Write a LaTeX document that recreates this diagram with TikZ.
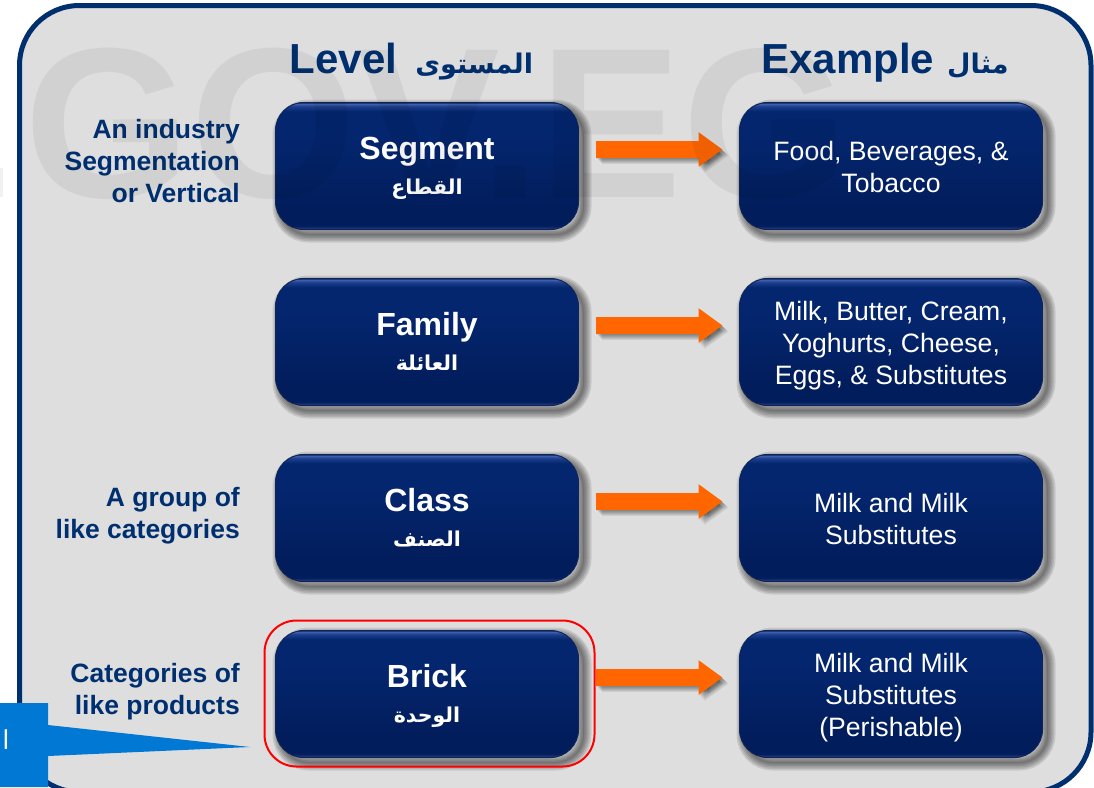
\documentclass[tikz,border=0pt]{standalone}
\usepackage{fontspec}
\setmainfont{Liberation Sans}
\newfontfamily\arabicfont[Script=Arabic]{DejaVu Sans}
\TeXXeTstate=1
\usetikzlibrary{arrows.meta}
\definecolor{navy}{HTML}{002F6F}
\definecolor{panelgray}{HTML}{DEDEDE}
\definecolor{calloutblue}{HTML}{0078D4}
\definecolor{arroworange}{HTML}{FF6600}
\definecolor{HexA}{HTML}{0F2458}
\definecolor{HexB}{HTML}{1B3475}
\definecolor{HexC}{HTML}{021D5C}
\definecolor{HexD}{HTML}{04266F}
\definecolor{HexE}{HTML}{1E3F8C}
\definecolor{HexF}{HTML}{3F62B2}
\pgfdeclareverticalshading{gloss}{100bp}{
 color(0bp)=(HexA);color(25bp)=(HexA);color(25.5bp)=(HexB);color(26.5bp)=(HexC);
 color(34bp)=(HexC);color(62bp)=(HexD);color(71.5bp)=(HexD);color(73.5bp)=(HexE);color(74.5bp)=(HexF);color(75bp)=(HexA);color(100bp)=(HexA)}
\tikzset{
 x=1pt,y=-1pt,
 shadowlayer/.style={preaction={draw=black,draw opacity=.1,line width=#1,transform canvas={xshift=5pt,yshift=-5pt}}},
 softshadow/.style={shadowlayer=16pt,shadowlayer=13pt,shadowlayer=10pt,shadowlayer=7pt,shadowlayer=4pt,shadowlayer=1pt},
 gbox/.style={rounded corners=28pt,minimum width=303pt,minimum height=127pt,inner sep=0pt,outer sep=0pt,
  softshadow,shading=gloss,draw=HexA,line width=1pt,text=white,align=center},
 levelbox/.style={gbox,font=\fontsize{32}{35}\selectfont\bfseries},
 examplebox/.style={gbox,font=\fontsize{26.6}{32}\selectfont},
 sidelabel/.style={anchor=east,align=right,inner sep=0pt,text=navy,font=\fontsize{26.5}{32}\selectfont\bfseries},
 heading/.style={anchor=base,inner sep=0pt,text=navy,font=\fontsize{42}{46}\selectfont\bfseries},
 flow/.style={-{Triangle[length=24pt,width=33pt]},line width=17pt,draw=arroworange,shorten <=17.5pt,shorten >=17pt},
 flowshadow/.style={flow,draw=black,opacity=.08,transform canvas={xshift=#1pt,yshift=-#1pt}},
}
\newcommand{\ar}[1]{{\arabicfont\beginR #1\endR}}
\newcommand{\arlabel}[1]{\rule[-9pt]{0pt}{24pt}{\fontsize{20.5}{24}\selectfont\arabicfont\bfseries\beginR #1\endR}}
\newcommand{\toplabel}[1]{\rule{0pt}{31pt}#1}
\newcommand{\twoline}{\rule{0pt}{21pt}}
\newcommand{\threeline}{\rule{0pt}{27pt}}
\begin{document}
\begin{tikzpicture}
\useasboundingbox (0,0) rectangle (1094,787);
\clip (0,0) rectangle (1094,787);
\fill[white] (0,0) rectangle (1094,787);
% panel
\draw[navy,fill=panelgray,line width=5pt,rounded corners=60pt] (19.5,5.5) rectangle (1091,792);
% headings
\node[heading] (hlevel) at (411.5,73) {Level\hspace{18pt}{\fontsize{27}{30}\selectfont\ar{المستوى}}};
\node[heading] (hexample) at (885,73) {Example\hspace{13pt}{\fontsize{27}{30}\selectfont\ar{مثال}}};
% side labels
\node[sidelabel] (l1) at (240,161) {An industry\\Segmentation\\or Vertical};
\node[sidelabel] (l2) at (240,516) {A group of\\like categories};
\node[sidelabel] (l3) at (240,692) {Categories of\\like products};
% level boxes
\node[levelbox] (seg) at (427,166) {\toplabel{Segment}\\[0pt]\arlabel{القطاع}};
\node[levelbox] (fam) at (427,342) {\toplabel{Family}\\[0pt]\arlabel{العائلة}};
\node[levelbox] (cla) at (427,518) {\toplabel{Class}\\[0pt]\arlabel{الصنف}};
\node[levelbox] (bri) at (427,694) {\toplabel{Brick}\\[0pt]\arlabel{الوحدة}};
% example boxes
\node[examplebox] (segx) at (891,166) {\twoline Food, Beverages, \&\\Tobacco};
\node[examplebox] (famx) at (891,342) {\threeline Milk, Butter, Cream,\\Yoghurts, Cheese,\\Eggs, \& Substitutes};
\node[examplebox] (clax) at (891,518) {\twoline Milk and Milk\\Substitutes};
\node[examplebox] (brix) at (891,694) {\threeline Milk and Milk\\Substitutes\\(Perishable)};
% arrows
\foreach \a/\b in {seg/segx,fam/famx,cla/clax,bri/brix}{
 \foreach \s in {1,2,3,4,5,6}{
  \draw[flowshadow=\s] ([yshift=16.5pt]\a.east) -- ([yshift=16.5pt]\b.west);
 }
 \draw[flow] ([yshift=16.5pt]\a.east) -- ([yshift=16.5pt]\b.west);
}
% red highlight
\node[draw=red,line width=2pt,rounded corners=32pt,minimum width=330pt,minimum height=146pt,inner sep=0pt] (hl) at (429.5,693.5) {};
% callout
\fill[calloutblue] (0,703) -- (48,703) -- (48,725) -- (250,747) -- (48,756) -- (48,787) -- (0,787) -- cycle;
\node[text=white,inner sep=0pt,font=\fontsize{26}{28}\selectfont\arabicfont] (cl) at (6,740) {\beginR ا\endR};
% watermark
\node[anchor=base west,inner sep=0pt,text=black,text opacity=.055,font=\fontsize{214}{214}\selectfont\bfseries] (wm) at (24,197) {GOV.EG};
\fill[black,opacity=.055] (0,168) rectangle (3,197);
\end{tikzpicture}
\end{document}
